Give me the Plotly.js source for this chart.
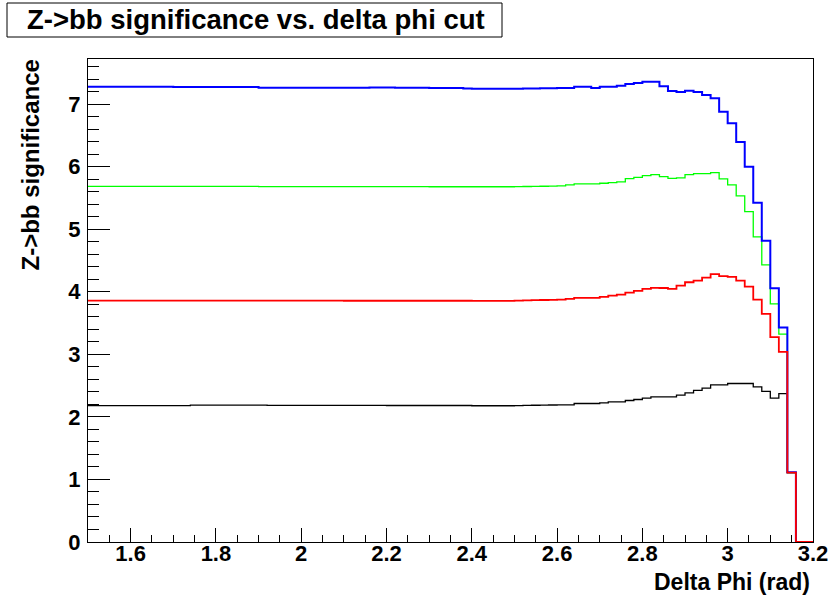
<!DOCTYPE html>
<html>
<head>
<meta charset="utf-8">
<script src="https://cdn.plot.ly/plotly-3.0.1.min.js"></script>
<style>html,body{margin:0;padding:0;background:#fff;}</style>
</head>
<body>
<div id="chart" style="width:830px;height:600px;"></div>
<script>
// Histogram binning (Delta Phi cut, rad)
const binStart = 1.5;
const binWidth = 0.02;
const xMax = 3.2;

// Significance per bin (85 bins from 1.50 to 3.20)
const blackValues = [
  2.180,2.180,2.180,2.180,2.180,2.180,2.180,2.180,2.180,2.180,
  2.180,2.180,2.187,2.187,2.187,2.187,2.187,2.187,2.187,2.187,
  2.187,2.183,2.183,2.183,2.183,2.183,2.183,2.183,2.183,2.183,
  2.183,2.183,2.183,2.183,2.183,2.182,2.182,2.182,2.182,2.182,
  2.182,2.182,2.182,2.182,2.182,2.178,2.178,2.178,2.178,2.178,
  2.180,2.183,2.186,2.188,2.190,
  2.193,2.193,2.214,2.214,2.214,2.225,2.241,2.241,2.262,2.278,
  2.300,2.321,2.321,2.321,2.348,2.385,2.422,2.459,2.512,2.512,
  2.533,2.533,2.533,2.480,2.406,2.300,2.373,1.110,0,0
];
const greenValues = [
  5.685,5.685,5.685,5.685,5.685,5.685,5.685,5.685,5.685,5.685,
  5.685,5.685,5.685,5.685,5.685,5.685,5.685,5.685,5.685,5.685,
  5.680,5.680,5.680,5.680,5.680,5.680,5.680,5.680,5.680,5.680,
  5.680,5.680,5.680,5.680,5.680,5.680,5.680,5.680,5.680,5.680,
  5.678,5.678,5.678,5.678,5.678,5.678,5.678,5.678,5.678,5.678,
  5.680,5.682,5.684,5.686,5.688,
  5.691,5.707,5.723,5.723,5.723,5.734,5.744,5.755,5.808,5.829,
  5.855,5.871,5.840,5.813,5.820,5.871,5.887,5.887,5.903,5.803,
  5.707,5.531,5.280,4.876,4.429,3.806,3.322,1.110,0,0
];
const blueValues = [
  7.275,7.275,7.275,7.275,7.275,7.275,7.275,7.275,7.275,7.275,
  7.274,7.274,7.273,7.273,7.273,7.272,7.272,7.272,7.271,7.271,
  7.262,7.262,7.262,7.261,7.261,7.261,7.260,7.260,7.260,7.260,
  7.262,7.262,7.262,7.263,7.263,7.263,7.262,7.262,7.261,7.260,
  7.258,7.257,7.256,7.255,7.250,7.246,7.244,7.243,7.243,7.244,
  7.246,7.248,7.250,7.252,7.254,
  7.256,7.256,7.277,7.277,7.256,7.277,7.277,7.293,7.320,7.336,
  7.357,7.357,7.283,7.208,7.192,7.213,7.192,7.144,7.091,6.878,
  6.692,6.394,5.999,5.424,4.817,4.057,3.428,1.115,0,0
];
const redValues = [
  3.858,3.858,3.858,3.858,3.858,3.858,3.858,3.858,3.858,3.858,
  3.858,3.858,3.858,3.858,3.858,3.858,3.858,3.858,3.858,3.858,
  3.858,3.858,3.858,3.858,3.858,3.858,3.858,3.858,3.858,3.858,
  3.856,3.856,3.856,3.856,3.856,3.856,3.856,3.856,3.856,3.856,
  3.856,3.856,3.856,3.856,3.856,3.855,3.855,3.855,3.855,3.855,
  3.858,3.862,3.865,3.868,3.871,
  3.875,3.886,3.902,3.902,3.902,3.918,3.939,3.955,3.987,4.014,
  4.046,4.062,4.060,4.046,4.099,4.152,4.178,4.226,4.280,4.248,
  4.237,4.178,4.083,3.875,3.646,3.274,3.039,1.110,0,0
];

const titleText = "Z->bb significance vs. delta phi cut";
const xTitle = "Delta Phi (rad)";
const yTitle = "Z->bb significance";

function stepTrace(values, color, width) {
  const x = values.map((v, i) => +(binStart + i * binWidth).toFixed(4));
  const y = values.slice();
  x.push(xMax);
  y.push(values[values.length - 1]);
  return {
    x: x, y: y, type: 'scatter', mode: 'lines',
    line: {shape: 'hv', color: color, width: width},
    hoverinfo: 'skip', showlegend: false, cliponaxis: false
  };
}

const traces = [
  stepTrace(blackValues, '#000000', 1.3),
  stepTrace(greenValues, '#00ff00', 1.3),
  stepTrace(blueValues, '#0000ff', 2),
  stepTrace(redValues, '#ff0000', 1.8)
];

const FONT = 'Liberation Sans, Arial, Helvetica, sans-serif';
const L = 88, R = 813, T = 59, B = 542;
const W = R - L, H = B - T;
const px = v => (v - L) / W;
const py = v => (B - v) / H;

const layout = {
  width: 830, height: 600,
  margin: {l: L, r: 830 - R, t: T, b: 600 - B, pad: 0},
  paper_bgcolor: '#ffffff', plot_bgcolor: '#ffffff',
  showlegend: false,
  xaxis: {
    range: [1.5, 3.2001], dtick: 0.2, tick0: 0,
    showgrid: false, zeroline: false, layer: 'below traces',
    showline: true, mirror: true, linecolor: '#000', linewidth: 1,
    ticks: 'inside', ticklen: 14, tickwidth: 1, tickcolor: '#000',
    minor: {dtick: 0.05, ticks: 'inside', ticklen: 7, tickwidth: 1, tickcolor: '#000', showgrid: false},
    tickfont: {family: FONT, size: 22, weight: 'bold', color: '#000'},
    ticklabelstandoff: -8
  },
  yaxis: {
    range: [0, 7.72], dtick: 1, tick0: 0,
    showgrid: false, zeroline: false, layer: 'below traces',
    showline: true, mirror: true, linecolor: '#000', linewidth: 1,
    ticks: 'inside', ticklen: 22, tickwidth: 1, tickcolor: '#000',
    minor: {dtick: 0.2, ticks: 'inside', ticklen: 11, tickwidth: 1, tickcolor: '#000', showgrid: false},
    tickfont: {family: FONT, size: 22, weight: 'bold', color: '#000'},
    ticklabelstandoff: 2
  },
  shapes: [{
    type: 'rect', xref: 'paper', yref: 'paper',
    x0: px(7), x1: px(502), y0: py(37), y1: py(3),
    line: {color: '#000', width: 1}, fillcolor: '#ffffff', layer: 'above'
  }],
  annotations: [
    {text: titleText, xref: 'paper', yref: 'paper', x: px(256), y: py(20),
     xanchor: 'center', yanchor: 'middle', showarrow: false,
     font: {family: FONT, size: 27.5, weight: 'bold', color: '#000'}},
    {text: xTitle, xref: 'paper', yref: 'paper', x: px(812), y: py(582),
     xanchor: 'right', yanchor: 'middle', showarrow: false,
     font: {family: FONT, size: 23, weight: 'bold', color: '#000'}},
    {text: yTitle, xref: 'paper', yref: 'paper', x: px(30), y: py(58),
     xanchor: 'center', yanchor: 'top', textangle: -90, showarrow: false,
     font: {family: FONT, size: 24, weight: 'bold', color: '#000'}}
  ]
};

Plotly.newPlot('chart', traces, layout, {displayModeBar: false, staticPlot: true});
</script>
</body>
</html>
